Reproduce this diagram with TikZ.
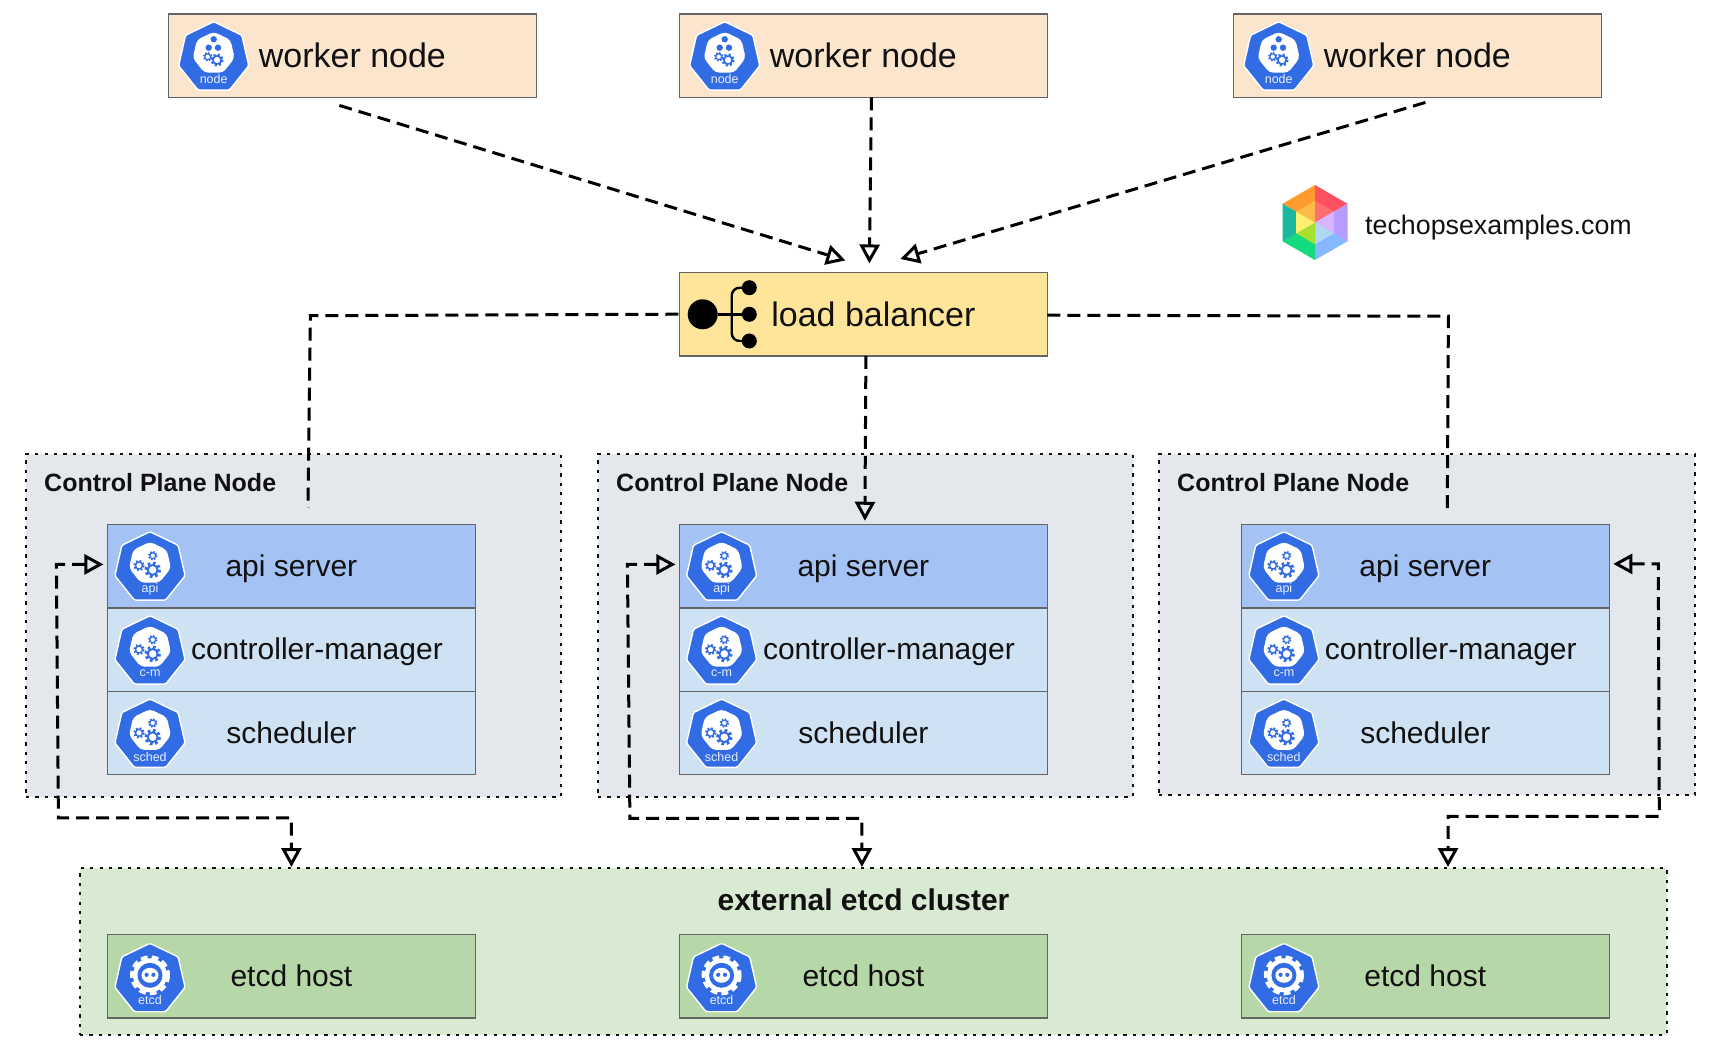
\documentclass[tikz,border=0pt]{standalone}
\usepackage{fontspec}
\setmainfont{Liberation Sans}
\usepackage{xcolor}
\definecolor{kblue}{RGB}{50,108,229}
\definecolor{edgegray}{RGB}{100,100,100}
\definecolor{inkblack}{RGB}{17,17,17}
\definecolor{workerfill}{RGB}{252,229,205}
\definecolor{lbfill}{RGB}{255,229,153}
\definecolor{panelfill}{RGB}{228,231,236}
\definecolor{apifill}{RGB}{164,194,244}
\definecolor{partfill}{RGB}{207,226,243}
\definecolor{clusterfill}{RGB}{217,234,211}
\definecolor{hostfill}{RGB}{182,215,168}
\definecolor{hexorange}{RGB}{255,154,46}
\definecolor{hexred}{RGB}{255,80,96}
\definecolor{hexviolet}{RGB}{182,156,255}
\definecolor{hexblue}{RGB}{133,184,255}
\definecolor{hexgreen}{RGB}{20,217,127}
\definecolor{hexteal}{RGB}{26,184,158}
\definecolor{liteorange}{RGB}{255,184,74}
\definecolor{litered}{RGB}{255,111,112}
\definecolor{liteviolet}{RGB}{216,180,255}
\definecolor{liteblue}{RGB}{176,216,245}
\definecolor{litegreen}{RGB}{168,224,48}
\definecolor{liteyellow}{RGB}{255,240,112}
\usepackage{tikz}
\usetikzlibrary{arrows.meta, positioning, shapes.geometric}

\newcommand{\kgear}[3]{%
  \pgfmathsetlengthmacro{\kgt}{#3*0.314}%
  \draw[kblue, line width={#3*0.34pt}, dash pattern=on \kgt off \kgt] (#1,#2) circle ({#3*0.8});
  \draw[kblue, line width={#3*0.22pt}] (#1,#2) circle ({#3*0.58});
}

\tikzset{
  kshell/.style = {regular polygon, regular polygon sides=7, minimum size=72pt, inner sep=0pt,
                   fill=kblue, draw=white, line width=1.4pt, rounded corners=1.5pt},
  kcore/.style  = {regular polygon, regular polygon sides=7, minimum size=43pt, inner sep=0pt,
                   fill=white, rounded corners=4pt},
  klabel/.style = {text=white!88!kblue, inner sep=0pt, font=\fontsize{12.5}{14}\selectfont},
  gearpic/.pic = {
    \node[kshell] (-shell) at (0,0) {};
    \node[kcore] (-core) at (0,-4.4) {};
    \kgear{2.7}{-12}{5}
    \kgear{-11}{-2.2}{6}
    \kgear{2.7}{2.2}{8.5}
    \node[klabel] (-txt) at (0,21.7) {#1};
  },
  nodepic/.pic = {
    \node[kshell] (-shell) at (0,0) {};
    \node[kcore] (-core) at (0,-4.4) {};
    \fill[kblue] (0,-18.4) circle (3.2) (-5,-10) circle (3.2) (4.3,-10) circle (3.2);
    \kgear{-6}{-1}{5}
    \kgear{3.3}{2.3}{7}
    \node[klabel] (-txt) at (0,21.7) {node};
  },
  etcdpic/.pic = {
    \node[kshell] (-shell) at (0,0) {};
    \draw[white, line width=5pt, dash pattern=on 6.5pt off 4pt] (0,-4) circle (17.5);
    \fill[white] (0,-4) circle (17);
    \fill[kblue] (0,-4) circle (12.5);
    \fill[white] (0,-4) ellipse (8.5 and 7.5);
    \fill[kblue] (-3.4,-4.5) circle (2.1) (3.4,-4.5) circle (2.1);
    \node[klabel] (-txt) at (0,21) {etcd};
  },
}

\begin{document}
\begin{tikzpicture}[
  x=1pt, y=-1pt,
  worker/.style = {rectangle, draw=edgegray, line width=1.2pt, fill=workerfill, outer sep=0pt,
                   minimum width=368pt, minimum height=83.5pt, text=inkblack,
                   text height=27.8pt, text depth=3.2pt, font=\fontsize{34}{40}\selectfont},
  balancer/.style = {worker, fill=lbfill},
  api/.style    = {rectangle, draw=edgegray, line width=1.2pt, fill=apifill, outer sep=0pt,
                   minimum width=368pt, minimum height=83.3pt, text=inkblack,
                   text height=24pt, text depth=3.6pt, font=\fontsize{30}{36}\selectfont},
  part/.style   = {api, fill=partfill},
  host/.style   = {api, fill=hostfill},
  cpanel/.style = {rectangle, draw=inkblack, line width=2.7pt, dash pattern=on 3.2pt off 6.2pt,
                   fill=panelfill, outer sep=0pt},
  cluster/.style = {cpanel, fill=clusterfill},
  cptitle/.style = {anchor=west, inner sep=0pt, text=inkblack, font=\fontsize{25}{30}\selectfont\bfseries},
  hubdot/.style = {circle, fill=black, inner sep=0pt, outer sep=0pt},
  link/.style   = {line width=3pt, black, dash pattern=on 13pt off 7pt},
  flow/.style   = {link, -{Triangle[open, length=19pt, width=20pt]}},
  biflow/.style = {link, {Triangle[open, length=19pt, width=20pt]}-{Triangle[open, length=19pt, width=20pt]}},
]
\useasboundingbox (0,0) rectangle (1732,1054);
% top row
\node[worker] (w2) at (863.4,55.7) {worker node};
\node[worker, left=143pt of w2]  (w1) {worker node};
\node[worker, right=186pt of w2] (w3) {worker node};
\node[balancer, below=175pt of w2] (lb) {\hspace{20pt}load balancer};
% logo
\begin{scope}[shift={(1315,222.5)}]
  \fill[hexorange] (0,0) -- (-32.5,-18.75) -- (0,-37.5) -- cycle;
  \fill[hexred]    (0,0) -- (0,-37.5) -- (32.5,-18.75) -- cycle;
  \fill[hexviolet] (0,0) -- (32.5,-18.75) -- (32.5,18.75) -- cycle;
  \fill[hexblue]   (0,0) -- (32.5,18.75) -- (0,37.5) -- cycle;
  \fill[hexgreen]  (0,0) -- (0,37.5) -- (-32.5,18.75) -- cycle;
  \fill[hexteal]   (0,0) -- (-32.5,18.75) -- (-32.5,-18.75) -- cycle;
  \fill[liteorange] (0,0) -- (-18.8,-10.9) -- (0,-21.7) -- cycle;
  \fill[litered]    (0,0) -- (0,-21.7) -- (18.8,-10.9) -- cycle;
  \fill[liteviolet] (0,0) -- (18.8,-10.9) -- (18.8,10.9) -- cycle;
  \fill[liteblue]   (0,0) -- (18.8,10.9) -- (0,21.7) -- cycle;
  \fill[litegreen]  (0,0) -- (0,21.7) -- (-18.8,10.9) -- cycle;
  \fill[liteyellow] (0,0) -- (-18.8,10.9) -- (-18.8,-10.9) -- cycle;
\end{scope}
\node[anchor=west, inner sep=0pt, text=inkblack, font=\fontsize{26.8}{32}\selectfont] (site) at (1365,227.5) {techopsexamples.com};
% load balancer glyph
\node[hubdot, minimum size=30pt] (hub) at (702.7,314.3) {};
\node[hubdot, minimum size=15pt] (t1) at (749.3,287.7) {};
\node[hubdot, minimum size=15pt] (t2) at (749.3,314.3) {};
\node[hubdot, minimum size=15pt] (t3) at (749.3,341) {};
\coordinate (fork) at (731.7,314.3);
\draw[line width=2.4pt] (hub) -- (t2);
\draw[line width=2.4pt, rounded corners=8pt] (t1) -| (fork) |- (t3);
% control plane panels
\node[cpanel, minimum width=535pt, minimum height=343pt] (cp1) at (293.5,625.5) {};
\node[cpanel, minimum width=535pt, minimum height=343pt] (cp2) at (865.5,625.5) {};
\node[cpanel, minimum width=536pt, minimum height=341pt] (cp3) at (1427,624.5) {};
\node[cptitle] (cpt1) at ([shift={(18,29)}]cp1.north west) {Control Plane Node};
\node[cptitle] (cpt2) at ([shift={(18,29)}]cp2.north west) {Control Plane Node};
\node[cptitle] (cpt3) at ([shift={(18,29)}]cp3.north west) {Control Plane Node};
\node[api] (a1) at (291.4,566.4) {api server};
\node[part, below=0pt of a1] (m1) {\hspace{51pt}controller-manager};
\node[part, below=0pt of m1] (s1) {scheduler};
\node[api] (a2) at (863.4,566.4) {api server};
\node[part, below=0pt of a2] (m2) {\hspace{51pt}controller-manager};
\node[part, below=0pt of m2] (s2) {scheduler};
\node[api] (a3) at (1425.3,566.4) {api server};
\node[part, below=0pt of a3] (m3) {\hspace{51pt}controller-manager};
\node[part, below=0pt of m3] (s3) {scheduler};
% etcd
\node[cluster, minimum width=1587pt, minimum height=167pt] (ec) at (873.5,951.5) {};
\node[anchor=center, inner sep=0pt, text=inkblack, font=\fontsize{30}{36}\selectfont\bfseries] (ect) at (863.5,899.5) {external etcd cluster};
\node[host, below=160pt of s1] (h1) {etcd host};
\node[host, below=160pt of s2] (h2) {etcd host};
\node[host, below=160pt of s3] (h3) {etcd host};
% icons
\pic (iw1) at (213.7,57.7) {nodepic};
\pic (iw2) at (724.7,57.7) {nodepic};
\pic (iw3) at (1278.7,57.7) {nodepic};
\pic (ia1) at (150,567.7) {gearpic=api};
\pic (im1) at (150,651.7) {gearpic=c-m};
\pic (is1) at (150,735) {gearpic=sched};
\pic (ia2) at (721.6,567.7) {gearpic=api};
\pic (im2) at (721.6,651.7) {gearpic=c-m};
\pic (is2) at (721.6,735) {gearpic=sched};
\pic (ia3) at (1283.9,567.7) {gearpic=api};
\pic (im3) at (1283.9,651.7) {gearpic=c-m};
\pic (is3) at (1283.9,735) {gearpic=sched};
\pic (ih1) at (150,979.3) {etcdpic};
\pic (ih2) at (721.6,979.3) {etcdpic};
\pic (ih3) at (1283.9,979.3) {etcdpic};
% connectors
\draw[flow] ([shift={(-13,8)}]w1.south) -- ([shift={(-18,-12)}]lb.north);
\draw[flow] ([shift={(8,0)}]w2.south) -- ([shift={(6,-9)}]lb.north);
\draw[flow] ([shift={(8,5)}]w3.south) -- ([shift={(37,-13.5)}]lb.north);
\draw[link] ([shift={(-1,0)}]lb.west) -- ++(-368,1.5) -- ([shift={(16.6,-17)}]a1.north);
\draw[flow] ([shift={(2.5,0)}]lb.south) -- ([shift={(1.5,-4)}]a2.north);
\draw[link] ([shift={(0,1)}]lb.east) -- ++(401,1) -- ([shift={(22,-15)}]a3.north);
\draw[biflow] ([shift={(-4,-2)}]a1.west) -- ++(-47,0) -- ++(2,253.5) -| ([shift={(0,-1)}]h1.north |- ec.north);
\draw[biflow] ([shift={(-4,-2)}]a2.west) -- ++(-48,0) -- ++(2.5,254) -| ([shift={(-1.5,-1)}]h2.north |- ec.north);
\draw[biflow] ([shift={(4,-2.5)}]a3.east) -- ++(45,0) -- ++(1,252.5) -| ([shift={(22.7,-1)}]h3.north |- ec.north);
\end{tikzpicture}
\end{document}
